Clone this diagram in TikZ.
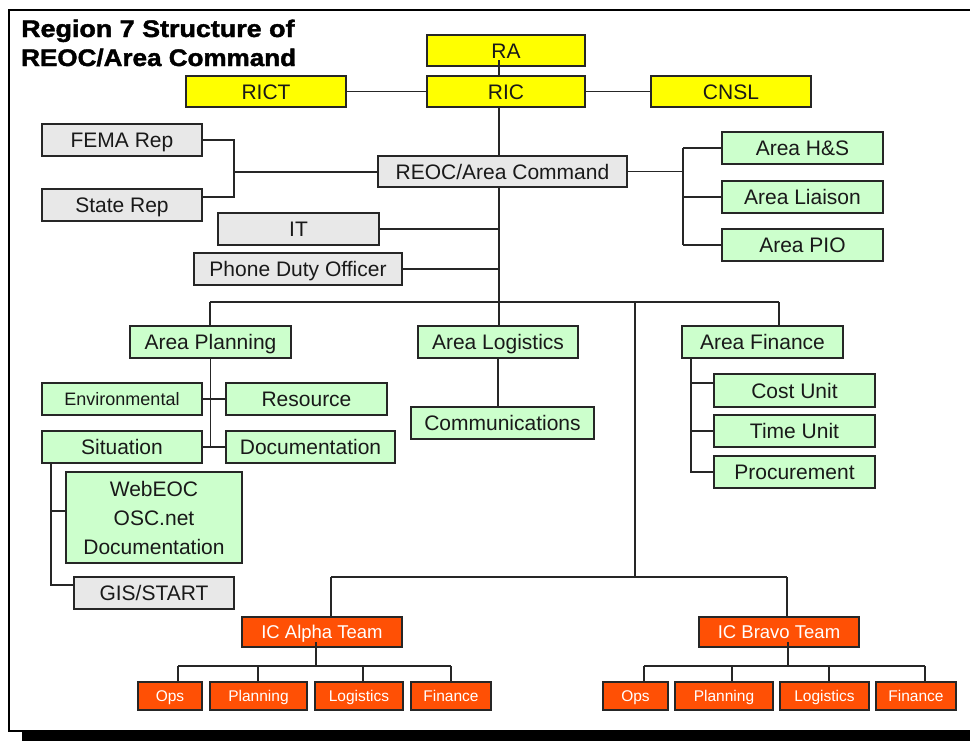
\documentclass[tikz,border=0pt]{standalone}
\usepackage{fontspec}
\usepackage{graphicx}
\setmainfont{Liberation Sans}
\newfontfamily\ttlfont[FakeBold=1.6]{Liberation Sans Bold}
\usetikzlibrary{backgrounds,calc}
\definecolor{ylw}{HTML}{FFFF00}
\definecolor{grn}{HTML}{CCFFCC}
\definecolor{gry}{HTML}{E8E8E8}
\definecolor{org}{HTML}{FF5005}
\definecolor{edge}{HTML}{262626}
\tikzset{
  box/.style={draw=edge, line width=1.3pt, inner sep=0pt, text=black!90,
    font=\fontsize{21}{21}\selectfont, text height=15pt, text depth=0pt, minimum height=32pt},
  ybox/.style={box, fill=ylw, minimum height=31pt},
  gbox/.style={box, fill=grn},
  xbox/.style={box, fill=gry},
  tbox/.style={box, fill=org, text=white, font=\fontsize{18.5}{18.5}\selectfont,
    text height=13.2pt, minimum height=30pt, minimum width=160pt},
  obox/.style={box, fill=org, text=white, font=\fontsize{15.5}{15.5}\selectfont,
    text height=11.1pt, minimum height=28pt},
  link/.style={draw=edge, line width=1.2pt},
  ttl/.style={anchor=base west, inner sep=0pt, font=\fontsize{24}{24}\ttlfont},
}
\begin{document}
\begin{tikzpicture}[x=1pt,y=-1pt]
\useasboundingbox (0,0) rectangle (970,740);
% frame
\draw[line width=2pt, black] (995,10) -- (9,10) -- (9,731) -- (995,731);
\fill[black] (22,731.5) rectangle (995,745);
% title
\node[ttl] (T1) at (21,37) {\scalebox{1.12}[1]{Region 7 Structure of}};
\node[ttl] (T2) at (21,66) {\scalebox{1.085}[1]{REOC/Area Command}};
% yellow
\node[ybox, minimum width=158pt] (RA) at (506,50.5) {RA};
\node[ybox, minimum width=158pt] (RIC) at (506,91.5) {RIC};
\node[ybox, minimum width=160pt] (RICT) at (266,91.5) {RICT};
\node[ybox, minimum width=160pt] (CNSL) at (731,91.5) {CNSL};
% gray
\node[xbox, minimum width=160pt] (FEMA) at (122,140) {FEMA Rep};
\node[xbox, minimum width=160pt] (State) at (122,205) {State Rep};
\node[xbox, minimum width=249pt, minimum height=31pt] (REOC) at (502.5,171.5) {REOC/Area Command};
\node[xbox, minimum width=161pt] (IT) at (298.5,229) {IT};
\node[xbox, minimum width=208pt] (Phone) at (298,269) {Phone Duty Officer};
% right staff
\node[gbox, minimum width=161pt] (HS) at (802.5,148) {Area H\&S};
\node[gbox, minimum width=161pt] (Liaison) at (802.5,197) {Area Liaison};
\node[gbox, minimum width=161pt] (PIO) at (802.5,245) {Area PIO};
% planning
\node[gbox, minimum width=161pt] (AP) at (210.5,342) {Area Planning};
\node[gbox, minimum width=160pt, font=\fontsize{18}{18}\selectfont, text height=12.9pt] (Env) at (122,399) {Environmental};
\node[gbox, minimum width=161pt] (Res) at (306.5,399) {Resource};
\node[gbox, minimum width=160pt] (Sit) at (122,447) {Situation};
\node[gbox, minimum width=169pt] (Doc) at (310.5,447) {Documentation};
\node[gbox, minimum width=176pt, minimum height=91pt, align=center, text height=, text depth=,
  font=\fontsize{21}{29}\selectfont] (Web) at (154,517.5) {WebEOC\\OSC.net\\Documentation};
\node[xbox, minimum width=160pt] (GIS) at (154,593) {GIS/START};
% logistics
\node[gbox, minimum width=160pt] (AL) at (498,342) {Area Logistics};
\node[gbox, minimum width=183pt] (Comm) at (502.5,423) {Communications};
% finance
\node[gbox, minimum width=161pt] (AF) at (762.5,342) {Area Finance};
\node[gbox, minimum width=161pt, minimum height=33pt] (Cost) at (794.5,390.5) {Cost Unit};
\node[gbox, minimum width=161pt] (Time) at (794.5,431) {Time Unit};
\node[gbox, minimum width=161pt] (Proc) at (794.5,472) {Procurement};
% teams
\node[tbox] (Alpha) at (322,632) {IC Alpha Team};
\node[tbox] (Bravo) at (779,632) {IC Bravo Team};
\node[obox, minimum width=64pt] (AOps) at (170,696) {Ops};
\node[obox, minimum width=97pt] (APlan) at (258.5,696) {Planning};
\node[obox, minimum width=88pt] (ALog) at (359,696) {Logistics};
\node[obox, minimum width=80pt] (AFin) at (451,696) {Finance};
\node[obox, minimum width=65pt] (BOps) at (635.5,696) {Ops};
\node[obox, minimum width=98pt] (BPlan) at (724,696) {Planning};
\node[obox, minimum width=89pt] (BLog) at (824.5,696) {Logistics};
\node[obox, minimum width=80pt] (BFin) at (916,696) {Finance};
% coordinates
\coordinate (raT) at (499,60);
\coordinate (tr) at (499,302);
\coordinate (fsb) at (234,197);
\coordinate (fs) at (234,172);
\coordinate (rr) at (683,172);
\coordinate (bl) at (210,302);
\coordinate (br) at (779,302);
\coordinate (mb) at (635,302);
\coordinate (ib) at (635,577);
\coordinate (ibl) at (331,577);
\coordinate (ibr) at (787,577);
\coordinate (sx) at (51,463);
\coordinate (fx) at (691,358);
\coordinate (ad) at (316,642);
\coordinate (bd) at (788,642);
\coordinate (a1) at (178,666);
\coordinate (a2) at (258,666);
\coordinate (a3) at (363,666);
\coordinate (a4) at (451,666);
\coordinate (b1) at (644,666);
\coordinate (b2) at (732,666);
\coordinate (b3) at (829,666);
\coordinate (b4) at (925,666);
\coordinate (gisW) at ([yshift=8pt]GIS.west);
\coordinate (webW) at ([yshift=6.5pt]Web.west);
\coordinate (costW) at ([yshift=7.5pt]Cost.west);
\begin{pgfonlayer}{background}
\draw[link] (RICT.east) -- (RIC.west);
\draw[link] (RIC.east) -- (CNSL.west);
\draw[link] (RIC.south -| tr) -- (tr);
\draw[link] (FEMA.east) -| (fsb) -- (fsb -| State.east);
\draw[link] (fs) -- (fs -| REOC.west);
\draw[link] (IT.east) -- (IT.east -| tr);
\draw[link] (Phone.east) -- (Phone.east -| tr);
\draw[link] (REOC.east) -- (REOC.east -| rr);
\draw[link] (HS.west -| rr) -- (PIO.west -| rr);
\draw[link] (HS.west -| rr) -- (HS.west);
\draw[link] (Liaison.west -| rr) -- (Liaison.west);
\draw[link] (PIO.west -| rr) -- (PIO.west);
\draw[link] (bl) -- (br);
\draw[link] (bl) -- (bl |- AP.north);
\draw[link] (br) -- (br |- AF.north);
\draw[link] (tr) -- (tr |- AL.north);
\draw[link] (mb) -- (ib);
\draw[link] (ibl) -- (ibr);
\draw[link] (ibl) -- (ibl |- Alpha.north);
\draw[link] (ibr) -- (ibr |- Bravo.north);
\draw[link] (AP.south) -- (AP.south |- Sit.east);
\draw[link] (Env.east) -- (Res.west);
\draw[link] (Sit.east) -- (Doc.west);
\draw[link] (sx) |- (gisW);
\draw[link] (sx |- webW) -- (webW);
\draw[link] (AL.south) -- (AL.south |- Comm.north);
\draw[link] (fx) |- (Proc.west);
\draw[link] (fx |- costW) -- (costW);
\draw[link] (fx |- Time.west) -- (Time.west);
\draw[link] (a1) -- (a4);
\draw[link] (a1) -- (a1 |- AOps.north);
\draw[link] (a2) -- (a2 |- APlan.north);
\draw[link] (a3) -- (a3 |- ALog.north);
\draw[link] (a4) -- (a4 |- AFin.north);
\draw[link] (b1) -- (b4);
\draw[link] (b1) -- (b1 |- BOps.north);
\draw[link] (b2) -- (b2 |- BPlan.north);
\draw[link] (b3) -- (b3 |- BLog.north);
\draw[link] (b4) -- (b4 |- BFin.north);
\end{pgfonlayer}
% lines drawn over boxes
\draw[link] (raT) -- (raT |- RIC.north);
\draw[link] (ad) -- (ad |- a1);
\draw[link] (bd) -- (bd |- b1);
\end{tikzpicture}
\end{document}
